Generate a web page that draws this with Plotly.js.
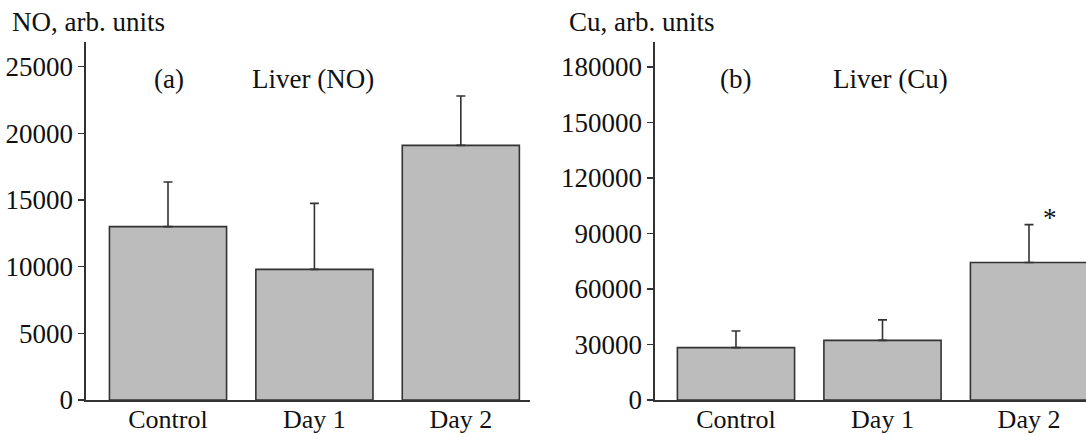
<!DOCTYPE html>
<html>
<head>
<meta charset="utf-8">
<script src="https://cdn.plot.ly/plotly-3.0.1.min.js"></script>
<style>html,body{margin:0;padding:0;background:#fff;} #chart{width:1086px;height:437px;}</style>
</head>
<body>
<div id="chart"></div>
<script>
// Data
var categories = ["Control", "Day 1", "Day 2"];
var noValues = [13000, 9800, 19100];
var noErrors = [3350, 4950, 3700];
var cuValues = [28300, 32200, 74300];
var cuErrors = [9000, 11100, 20500];
var noTicks = [0, 5000, 10000, 15000, 20000, 25000];
var cuTicks = [0, 30000, 60000, 90000, 120000, 150000, 180000];

var FONT = "Liberation Serif, Times New Roman, serif";
var FS = 27;
var barFill = "#bbbcbb";
var ink = "#333333";

function barTrace(vals, errs, xa, ya) {
  return {
    type: "bar",
    x: categories,
    y: vals,
    xaxis: xa,
    yaxis: ya,
    marker: {color: barFill, line: {color: ink, width: 1.6}},
    error_y: {type: "data", symmetric: false, array: errs,
              arrayminus: errs.map(function(){return 0;}),
              color: ink, thickness: 1.6, width: 4.5},
    hoverinfo: "none",
    showlegend: false
  };
}

var data = [
  barTrace(noValues, noErrors, "x", "y"),
  barTrace(cuValues, cuErrors, "x2", "y2")
];

function yAxis(ticks, range, anchor) {
  return {
    range: range, tickmode: "array", tickvals: ticks,
    ticktext: ticks.map(String),
    showgrid: false, zeroline: false, showline: true,
    linecolor: ink, linewidth: 1.6,
    ticks: "outside", ticklen: 6, tickwidth: 1.6, tickcolor: ink,
    tickfont: {family: FONT, size: FS, color: "#111"},
    domain: [0.0847, 0.9039], anchor: anchor, fixedrange: true
  };
}
function xAxis(domain, range, anchor) {
  return {
    type: "category", domain: domain, range: range, anchor: anchor,
    showgrid: false, zeroline: false, showline: true,
    linecolor: ink, linewidth: 1.6, ticks: "",
    tickfont: {family: FONT, size: 26, color: "#111"},
    ticklabelstandoff: -5,
    fixedrange: true
  };
}

function note(text, x, yPx) {
  return {text: text, xref: "paper", yref: "paper", x: x / 1086, y: 1 - yPx / 437,
          xanchor: "left", yanchor: "middle", showarrow: false,
          font: {family: FONT, size: FS, color: "#111"}};
}

var layout = {
  width: 1086, height: 437,
  margin: {l: 0, r: 0, t: 0, b: 0},
  paper_bgcolor: "#fff", plot_bgcolor: "#fff",
  bargap: 0.2,
  font: {family: FONT, size: FS, color: "#111"},
  xaxis: xAxis([0.0792, 0.4877], [-0.56, 2.47], "y"),
  yaxis: yAxis(noTicks, [0, 26850], "x"),
  xaxis2: xAxis([0.6031, 1.0], [-0.553, 2.389], "y2"),
  yaxis2: yAxis(cuTicks, [0, 193500], "x2"),
  annotations: [
    note("NO, arb. units", 10, 22),
    note("Cu, arb. units", 567, 22),
    note("(a)", 152, 79),
    note("Liver (NO)", 250, 79),
    note("(b)", 718, 79),
    note("Liver (Cu)", 831, 79),
    {text: "*", xref: "x2", yref: "y2", x: 2.14, y: cuValues[2] + cuErrors[2] + 3500,
     xanchor: "center", yanchor: "middle", showarrow: false, font: {family: FONT, size: FS, color: "#111"}}
  ]
};

Plotly.newPlot("chart", data, layout, {staticPlot: true, displayModeBar: false});
</script>
</body>
</html>
